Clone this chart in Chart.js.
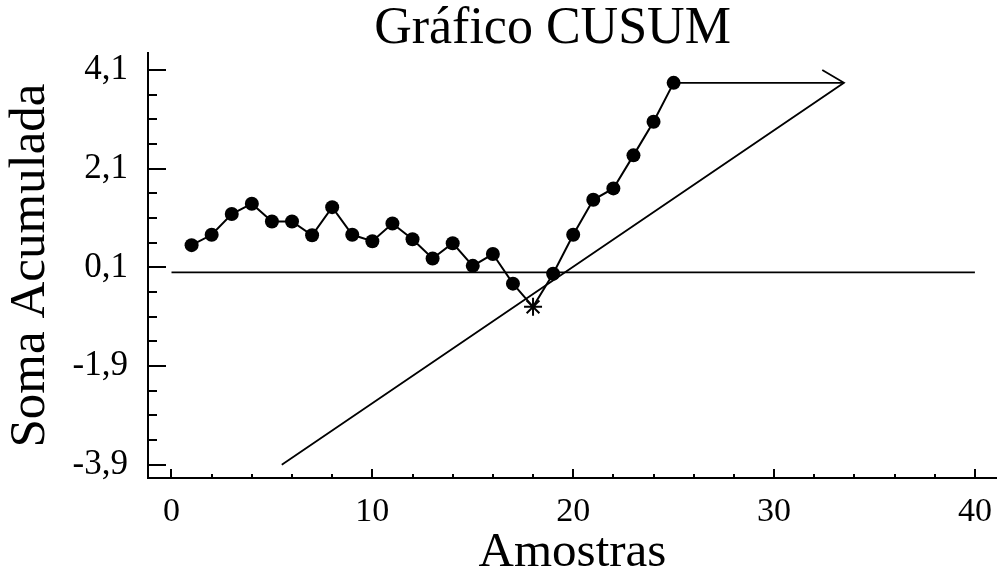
<!DOCTYPE html>
<html>
<head>
<meta charset="utf-8">
<script src="https://cdn.jsdelivr.net/npm/chart.js@4/dist/chart.umd.min.js"></script>
<style>
  html, body { margin: 0; padding: 0; background: #fff; }
  #wrap { width: 997px; height: 577px; }
</style>
</head>
<body>
<div id="wrap"><canvas id="myChart" width="997" height="577"></canvas></div>
<script>
// amostras e soma acumulada
var amostras = [1, 2, 3, 4, 5, 6, 7, 8, 9, 10, 11, 12, 13, 14, 15, 16, 17, 18, 19, 20, 21, 22, 23, 24, 25];
var somaAcumulada = [0.55, 0.76, 1.18, 1.39, 1.03, 1.03, 0.75, 1.32, 0.76, 0.63, 0.99, 0.67, 0.28, 0.59, 0.13,
                     0.37, -0.23, -0.70, -0.03, 0.76, 1.47, 1.70, 2.37, 3.05, 3.84];
var foraDeControle = [18];

// linha alvo
var alvoX = [0, 40];
var alvoY = [0, 0];

// máscara V
var mascaraX = [32.4, 33.48, 5.49];
var mascaraY = [4.1, 3.84, -3.9];
var avancoX = [25, 33.48];
var avancoY = [3.84, 3.84];

// eixos
var xTicks = [0, 10, 20, 30, 40];
var xMinorTicks = [2, 4, 6, 8, 12, 14, 16, 18, 22, 24, 26, 28, 32, 34, 36, 38];
var yTicks = [4.1, 2.1, 0.1, -1.9, -3.9];
var yMinorTicks = [3.6, 3.1, 2.6, 1.6, 1.1, 0.6, -0.4, -0.9, -1.4, -2.4, -2.9, -3.4];

function pares(xs, ys) {
    return xs.map(function(x, i) { return {x: x, y: ys[i]}; });
}

// marcas de escala para dentro
var marcasInternas = {
    id: 'marcasInternas',
    afterLayout: function(chart) {
        // centra o título um pouco à direita, como no original
        if (chart.titleBlock) {
            chart.titleBlock.left = 108;
            chart.titleBlock.right = 997;
        }
    },
    afterDraw: function(chart) {
        var ctx = chart.ctx;
        var sx = chart.scales.x, sy = chart.scales.y;
        var area = chart.chartArea;
        ctx.save();
        ctx.strokeStyle = '#000';
        ctx.lineWidth = 2;
        ctx.beginPath();
        yTicks.forEach(function(v) {
            var p = Math.round(sy.getPixelForValue(v));
            ctx.moveTo(area.left, p); ctx.lineTo(area.left + 18, p);
        });
        yMinorTicks.forEach(function(v) {
            var p = Math.round(sy.getPixelForValue(v));
            ctx.moveTo(area.left, p); ctx.lineTo(area.left + 9, p);
        });
        xTicks.forEach(function(v) {
            var p = Math.round(sx.getPixelForValue(v));
            ctx.moveTo(p, area.bottom); ctx.lineTo(p, area.bottom - 9);
        });
        xMinorTicks.forEach(function(v) {
            var p = Math.round(sx.getPixelForValue(v));
            ctx.moveTo(p, area.bottom); ctx.lineTo(p, area.bottom - 4);
        });
        ctx.stroke();
        ctx.restore();
    }
};

var fonte = "'Liberation Serif', 'Times New Roman', serif";

var ctx = document.getElementById('myChart').getContext('2d');
var myChart = new Chart(ctx, {
    type: 'line',
    data: {
        datasets: [{
            label: 'CUSUM',
            data: pares(amostras, somaAcumulada),
            borderColor: '#000',
            borderWidth: 2,
            backgroundColor: '#000',
            pointBackgroundColor: '#000',
            pointBorderColor: '#000',
            pointStyle: amostras.map(function(a) { return foraDeControle.indexOf(a) >= 0 ? 'star' : 'circle'; }),
            pointRadius: amostras.map(function(a) { return foraDeControle.indexOf(a) >= 0 ? 9 : 7; }),
            pointBorderWidth: amostras.map(function(a) { return foraDeControle.indexOf(a) >= 0 ? 2 : 0; }),
            tension: 0
        }, {
            label: 'alvo',
            data: pares(alvoX, alvoY),
            borderColor: '#000',
            borderWidth: 1.8,
            pointRadius: 0,
            tension: 0
        }, {
            label: 'mascara',
            data: pares(mascaraX, mascaraY),
            borderColor: '#000',
            borderWidth: 1.8,
            pointRadius: 0,
            tension: 0
        }, {
            label: 'avanco',
            data: pares(avancoX, avancoY),
            borderColor: '#000',
            borderWidth: 1.8,
            pointRadius: 0,
            tension: 0
        }]
    },
    options: {
        responsive: false,
        animation: false,
        layout: { padding: 0, autoPadding: false },
        scales: {
            x: {
                type: 'linear',
                min: -1.17,
                max: 41.1,
                afterBuildTicks: function(scale) {
                    scale.ticks = xTicks.map(function(v) { return {value: v}; });
                },
                afterFit: function(scale) {
                    scale.height = 99;
                    scale.paddingLeft = 0; scale.paddingRight = 0;
                },
                grid: { display: true, drawOnChartArea: false, drawTicks: false },
                border: { display: true, color: '#000', width: 2 },
                ticks: {
                    color: '#000',
                    padding: 14,
                    font: { family: fonte, size: 34 },
                    callback: function(v) { return String(v); }
                },
                title: {
                    display: true,
                    text: 'Amostras',
                    color: '#000',
                    font: { family: fonte, size: 49 },
                    padding: { top: 0, bottom: -6 }
                }
            },
            y: {
                type: 'linear',
                min: -4.17,
                max: 4.445,
                afterBuildTicks: function(scale) {
                    scale.ticks = yTicks.map(function(v) { return {value: v}; });
                },
                afterFit: function(scale) {
                    scale.width = 148;
                    scale.paddingTop = 0; scale.paddingBottom = 0;
                },
                grid: { display: true, drawOnChartArea: false, drawTicks: false },
                border: { display: true, color: '#000', width: 2 },
                ticks: {
                    color: '#000',
                    padding: 20,
                    font: { family: fonte, size: 35 },
                    callback: function(v) { return v.toFixed(1).replace('.', ','); }
                },
                title: {
                    display: true,
                    text: 'Soma Acumulada',
                    color: '#000',
                    font: { family: fonte, size: 51 },
                    padding: { top: 0, bottom: 0 }
                }
            }
        },
        plugins: {
            legend: { display: false },
            tooltip: { enabled: false },
            title: {
                display: true,
                text: 'Gráfico CUSUM',
                color: '#000',
                font: { family: fonte, size: 52, weight: 'normal', lineHeight: 1 },
                padding: { top: 3.5, bottom: -2.5 }
            }
        }
    },
    plugins: [marcasInternas]
});
</script>
</body>
</html>
